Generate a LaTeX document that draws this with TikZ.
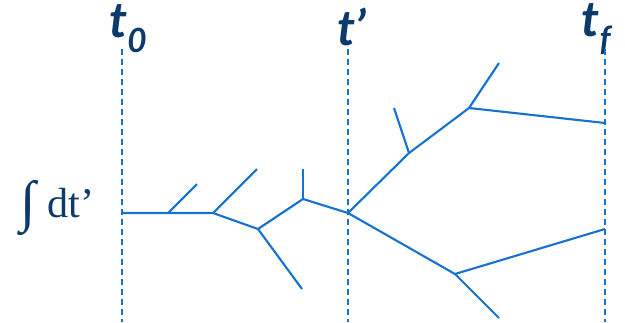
\documentclass[tikz,border=0pt]{standalone}
\usepackage{fontspec}
\setsansfont{Lato}
\setmainfont{Liberation Serif}
\usepackage{tikz}
\usetikzlibrary{positioning}
\definecolor{treeblue}{HTML}{1472D0}
\definecolor{labelnavy}{HTML}{0B3A6B}
\tikzset{
  time-line/.style={draw=treeblue, dash pattern=on 3.4pt off 2.3pt, line width=1.1pt},
  time-label/.style={text=labelnavy, font=\sffamily\bfseries\itshape\fontsize{28}{30}\selectfont, inner sep=0pt},
  branch/.style={draw=treeblue, line width=1.2pt},
  weight-label/.style={text=labelnavy, font=\fontsize{24}{26}\selectfont, inner sep=0pt}
}
\newcommand{\tsub}[1]{\raisebox{-0.3em}{\fontsize{19}{20}\selectfont #1\/}}

\begin{document}
\begin{tikzpicture}[x=0.02cm, y=-0.02cm]
  \useasboundingbox (0,0) rectangle (625,322);
  % time axes
  \node[time-label] (lbl-t0) at (128,29) {t\tsub{0}};
  \node[time-label] (lbl-tp) at (352,27) {t’};
  \node[time-label] (lbl-tf) at (597,29) {t\tsub{f}};
  \coordinate (t0-top) at (122,49);  \coordinate (t0-bot) at (122,322);
  \coordinate (tp-top) at (348,49);  \coordinate (tp-bot) at (348,322);
  \coordinate (tf-top) at (605,49);  \coordinate (tf-bot) at (605,322);
  \draw[time-line] (t0-top) -- (t0-bot);
  \draw[time-line] (tp-top) -- (tp-bot);
  \draw[time-line] (tf-top) -- (tf-bot);
  \node[weight-label, anchor=east] (weight) at (95,208)
    {\raisebox{-0.08em}{\fontsize{32}{34}\selectfont ∫}\hspace{0.28em}dt’};
  % branch points
  \coordinate (start) at (122,213);
  \coordinate (b1) at (168,213);
  \coordinate (b2) at (213,213);
  \coordinate (b3) at (258,229);
  \coordinate (b4) at (303,199);
  \coordinate (mid) at (348,213);
  \coordinate (b5) at (409,153);
  \coordinate (b6) at (469,108);
  \coordinate (b7) at (455,274);
  % free ends
  \coordinate (e1) at (197,184);
  \coordinate (e2) at (257,169);
  \coordinate (e3) at (302,289);
  \coordinate (e4) at (303,169);
  \coordinate (e5) at (394,108);
  \coordinate (e6) at (499,63);
  \coordinate (e7) at (605,123);
  \coordinate (e8) at (605,229);
  \coordinate (e9) at (499,318);
  % tree
  \draw[branch] (start) -- (b1) -- (b2) -- (b3) -- (b4) -- (mid);
  \draw[branch] (b1) -- (e1);
  \draw[branch] (b2) -- (e2);
  \draw[branch] (b3) -- (e3);
  \draw[branch] (b4) -- (e4);
  \draw[branch] (mid) -- (b5) -- (b6) -- (e7);
  \draw[branch] (b5) -- (e5);
  \draw[branch] (b6) -- (e6);
  \draw[branch] (mid) -- (b7) -- (e8);
  \draw[branch] (b7) -- (e9);
\end{tikzpicture}
\end{document}
